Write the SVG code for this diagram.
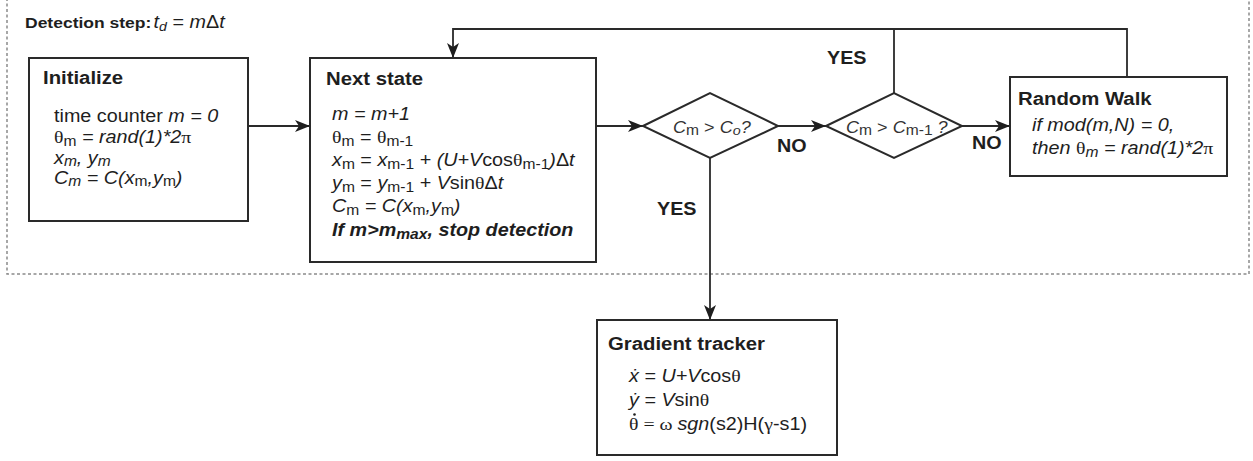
<svg xmlns="http://www.w3.org/2000/svg" width="1253" height="461" viewBox="0 0 1253 461">
<style>
text{font-family:"Liberation Sans",Arial,sans-serif;fill:#1e1e1e;}
.t{font-weight:bold;font-size:18px;}
.hd{font-weight:bold;font-size:15.5px;}
.b{font-size:17.5px;}
.lb{font-weight:bold;font-size:17.5px;}
.dm{font-size:16px;fill:#333;}
.i{font-style:italic;}
.s{font-family:"Liberation Serif","Times New Roman",serif;}
.sb{font-size:13.8px;}
.box{fill:#fff;stroke:#2a2a2a;stroke-width:2;}
.con{fill:none;stroke:#2a2a2a;stroke-width:1.8;}
.dash{fill:none;stroke:#8a8a8a;stroke-width:1.5;stroke-dasharray:3 2.5;}
</style>
<defs>
<marker id="ah" markerUnits="userSpaceOnUse" markerWidth="16" markerHeight="14" refX="15" refY="6" orient="auto">
<path d="M0,0 L15,6 L0,12 L4,6 Z" fill="#1e1e1e"/>
</marker>
</defs>
<rect x="0" y="0" width="1253" height="461" fill="#fff"/>
<rect class="dash" x="7" y="-5" width="1242" height="279"/>
<text class="hd" transform="translate(25 28) scale(1.13 1)">Detection step:<tspan class="i" font-weight="normal" font-size="17.5" dx="2">t</tspan><tspan class="i" font-weight="normal" font-size="12.5" dy="3">d</tspan><tspan font-weight="normal" font-size="17.5" dy="-3"> = </tspan><tspan class="i" font-weight="normal" font-size="17.5">m</tspan><tspan font-weight="normal" font-size="17.5">Δ</tspan><tspan class="i" font-weight="normal" font-size="17.5">t</tspan></text>

<g id="connectors">
<path class="con" d="M248,126 H310" marker-end="url(#ah)"/>
<path class="con" d="M596,126 H643" marker-end="url(#ah)"/>
<path class="con" d="M778,126 H826" marker-end="url(#ah)"/>
<path class="con" d="M962,126 H1010" marker-end="url(#ah)"/>
<path class="con" d="M710,158 V320" marker-end="url(#ah)"/>
<path class="con" d="M894,93 V29"/>
<path class="con" d="M1127,77 V29 H453 V58" marker-end="url(#ah)"/>
<text class="lb" transform="translate(827 64) scale(1.13 1)">YES</text>
<text class="lb" transform="translate(777 152) scale(1.13 1)">NO</text>
<text class="lb" transform="translate(972 149) scale(1.13 1)">NO</text>
<text class="lb" transform="translate(657 215) scale(1.13 1)">YES</text>
</g>

<g id="initialize">
<rect class="box" x="29" y="58" width="219" height="163"/>
<text class="t" transform="translate(43 84) scale(1.13 1)">Initialize</text>
<text class="b" transform="translate(54 122) scale(1.13 1)">time counter <tspan class="i">m = 0</tspan></text>
<text class="b" transform="translate(54 143) scale(1.13 1)"><tspan class="s">θ</tspan><tspan class="sb" dy="3">m</tspan><tspan class="i" dy="-3"> = rand(1)*2</tspan><tspan class="s">π</tspan></text>
<text class="b i" transform="translate(54 164) scale(1.13 1)">x<tspan class="sb" dy="2">m</tspan><tspan dy="-2">, y</tspan><tspan class="sb" dy="2">m</tspan></text>
<text class="b i" transform="translate(54 184) scale(1.13 1)">C<tspan class="sb" dy="2">m</tspan><tspan dy="-2"> = C(x</tspan><tspan class="sb" font-style="normal" dy="2">m</tspan><tspan dy="-2">,y</tspan><tspan class="sb" font-style="normal" dy="2">m</tspan><tspan dy="-2">)</tspan></text>
</g>

<g id="next-state">
<rect class="box" x="310" y="58" width="286" height="204"/>
<text class="t" transform="translate(326 85) scale(1.13 1)">Next state</text>
<text class="b i" transform="translate(332 120) scale(1.13 1)">m = m+1</text>
<text class="b" transform="translate(332 143) scale(1.13 1)"><tspan class="s">θ</tspan><tspan class="sb" dy="3">m</tspan><tspan dy="-3"> = </tspan><tspan class="s">θ</tspan><tspan class="sb" dy="3">m-1</tspan></text>
<text class="b" transform="translate(332 166) scale(1.13 1)"><tspan class="i">x</tspan><tspan class="sb" dy="3">m</tspan><tspan dy="-3"> = </tspan><tspan class="i">x</tspan><tspan class="sb" dy="3">m-1</tspan><tspan class="i" dy="-3"> + (U+V</tspan>cos<tspan class="s">θ</tspan><tspan class="sb" dy="3">m-1</tspan><tspan class="i" dy="-3">)</tspan>Δ<tspan class="i">t</tspan></text>
<text class="b" transform="translate(332 189) scale(1.13 1)"><tspan class="i">y</tspan><tspan class="sb" dy="3">m</tspan><tspan dy="-3"> = </tspan><tspan class="i">y</tspan><tspan class="sb" dy="3">m-1</tspan><tspan class="i" dy="-3"> + V</tspan>sin<tspan class="s">θ</tspan>Δ<tspan class="i">t</tspan></text>
<text class="b" transform="translate(332 212) scale(1.13 1)"><tspan class="i">C</tspan><tspan class="sb" dy="3">m</tspan><tspan class="i" dy="-3"> = C(x</tspan><tspan class="sb" dy="3">m</tspan><tspan class="i" dy="-3">,y</tspan><tspan class="sb" dy="3">m</tspan><tspan class="i" dy="-3">)</tspan></text>
<text class="b i" font-weight="bold" transform="translate(332 236) scale(1.13 1)">If m&gt;m<tspan class="sb" dy="3">max</tspan><tspan dy="-3">, stop detection</tspan></text>
</g>

<g id="decision-co">
<polygon class="box" points="643,126 710,93 778,126 710,158"/>
<text class="dm" transform="translate(673 133) scale(1.13 1)"><tspan class="i">C</tspan><tspan class="sb" dy="2">m</tspan><tspan dy="-2"> &gt; </tspan><tspan class="i">C</tspan><tspan class="i" font-size="12.7" dy="2">o</tspan><tspan class="i" dy="-2">?</tspan></text>
</g>

<g id="decision-cm1">
<polygon class="box" points="826,126 894,93 962,126 894,158"/>
<text class="dm" transform="translate(846 133) scale(1.13 1)"><tspan class="i">C</tspan><tspan class="sb" dy="2">m</tspan><tspan dy="-2"> &gt; </tspan><tspan class="i">C</tspan><tspan class="sb" dy="2">m-1</tspan><tspan class="i" dy="-2"> ?</tspan></text>
</g>

<g id="random-walk">
<rect class="box" x="1010" y="77" width="217" height="99"/>
<text class="t" transform="translate(1018 105) scale(1.13 1)">Random Walk</text>
<text class="b i" transform="translate(1032 131) scale(1.13 1)">if mod(m,N) = 0,</text>
<text class="b" transform="translate(1032 154) scale(1.13 1)"><tspan class="i">then </tspan><tspan class="s">θ</tspan><tspan class="i sb" dy="3">m</tspan><tspan class="i" dy="-3"> = rand(1)*2</tspan><tspan class="s">π</tspan></text>
</g>

<g id="gradient-tracker">
<rect class="box" x="597" y="320" width="240" height="135"/>
<text class="t" transform="translate(608 350) scale(1.13 1)">Gradient tracker</text>
<text class="b" transform="translate(629 382) scale(1.13 1)"><tspan class="i">ẋ = U+V</tspan>cos<tspan class="s">θ</tspan></text>
<text class="b" transform="translate(629 406) scale(1.13 1)"><tspan class="i">ẏ = V</tspan>sin<tspan class="s">θ</tspan></text>
<text class="b" transform="translate(629 430) scale(1.13 1)"><tspan class="s">θ = ω </tspan><tspan class="i">sgn</tspan>(s2)H(<tspan class="s">γ</tspan>-s1)</text>
<circle cx="634.5" cy="414.5" r="1.3" fill="#1e1e1e"/>
</g>
</svg>
